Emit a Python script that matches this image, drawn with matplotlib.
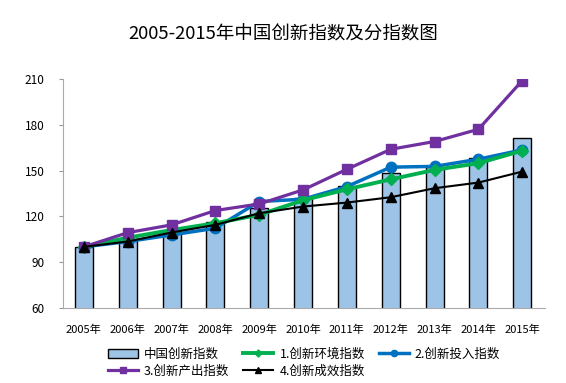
import numpy as np
import matplotlib
matplotlib.use('Agg')
import matplotlib.pyplot as plt

plt.rcParams['font.family'] = ['Noto Sans CJK SC', 'DejaVu Sans']

# 数据
years = ['2005年', '2006年', '2007年', '2008年', '2009年', '2010年',
         '2011年', '2012年', '2013年', '2014年', '2015年']
total = [100, 103.6, 109.4, 116.2, 125.7, 131.8, 139.6, 148.2, 152.6, 158.2, 171.5]
env = [100, 106.0, 111.0, 115.5, 121.0, 130.5, 137.7, 144.2, 150.4, 154.8, 163.0]
inp = [100, 103.5, 107.8, 112.2, 129.7, 131.2, 139.5, 152.2, 152.7, 157.4, 163.5]
out = [100, 109.3, 114.4, 123.8, 128.1, 137.3, 150.8, 163.9, 169.0, 177.0, 208.9]
eff = [100, 103.5, 109.4, 114.4, 122.0, 126.4, 129.0, 132.5, 138.4, 142.1, 149.3]

x = np.arange(len(years))

fig = plt.figure(figsize=(5.66, 3.83), dpi=100)
ax = fig.add_axes([0.111, 0.196, 0.852, 0.598])

b = ax.bar(x, total, width=0.41, color='#9DC3E6', edgecolor='black', linewidth=1,
           label='中国创新指数', zorder=2)
l1, = ax.plot(x, env, color='#00B050', lw=2.8, marker='D', ms=6, label='1.创新环境指数', zorder=4)
l2, = ax.plot(x, inp, color='#0070C0', lw=2.5, marker='o', ms=7.5, label='2.创新投入指数', zorder=3)
l3, = ax.plot(x, out, color='#7030A0', lw=2.3, marker='s', ms=7.5, label='3.创新产出指数', zorder=5)
l4, = ax.plot(x, eff, color='black', lw=1.5, marker='^', ms=6.5, label='4.创新成效指数', zorder=6)

ax.set_xlim(-0.48, 10.52)
ax.set_ylim(60, 210)
ax.set_yticks([60, 90, 120, 150, 180, 210])
ax.set_xticks(x)
ax.set_xticklabels(years)
ax.tick_params(axis='x', length=0, labelsize=8, pad=12)
ax.tick_params(axis='y', length=3, color='#999999', labelsize=8.5, pad=10)

for s in ['top', 'right']:
    ax.spines[s].set_visible(False)
ax.spines['left'].set_color('#aaaaaa')
ax.spines['bottom'].set_color('#aaaaaa')

fig.text(0.5, 0.909, '2005-2015年中国创新指数及分指数图', ha='center', va='center', fontsize=13.3)

# 按行排列: 先列后行的顺序
handles = [b, l3, l1, l4, l2]
labels = [h.get_label() for h in handles]
ax.legend(handles, labels, loc='upper left', bbox_to_anchor=(0.083, -0.152), ncol=3,
          frameon=False, fontsize=9, handlelength=2.4, columnspacing=1.1,
          handletextpad=0.5, labelspacing=0.3, markerscale=0.6, borderaxespad=0)

fig.savefig('out.png', dpi=100)
